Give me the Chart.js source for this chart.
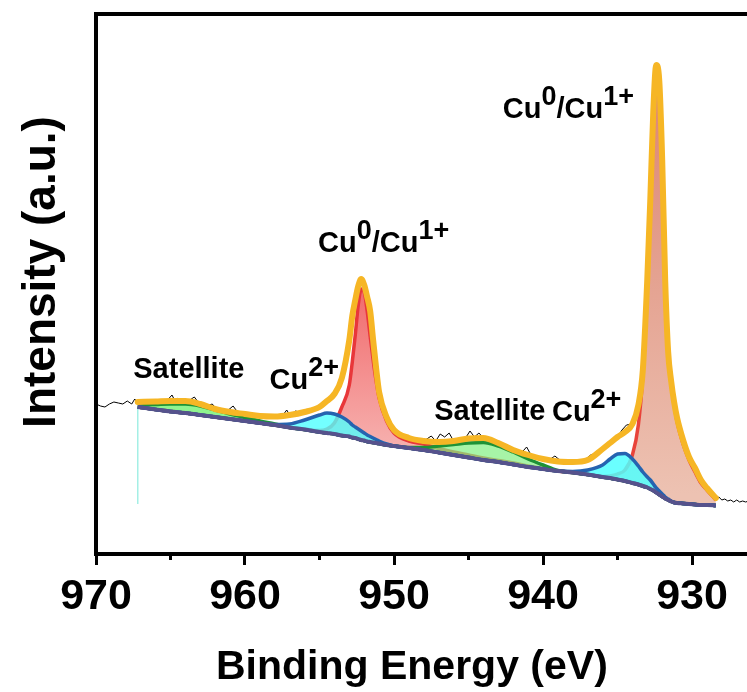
<!DOCTYPE html>
<html>
<head>
<meta charset="utf-8">
<script src="https://cdn.jsdelivr.net/npm/chart.js@4.4.1/dist/chart.umd.min.js"></script>
<style>
  html, body { margin: 0; padding: 0; background: #fff; overflow: hidden; }
  canvas { display: block; }
</style>
</head>
<body>
<canvas id="xps" width="845" height="692"></canvas>
<script>
// Cu 2p XPS fit, binding energy in eV, intensity in arbitrary units
const bindingEnergy = [967.2, 966, 965, 964, 963, 962, 961, 960, 959, 958, 957, 956, 955, 954.5, 954, 953.5, 953, 952.8, 952.6, 952.4, 952.2, 952.0, 951.8, 951.6, 951.4, 951.2, 951, 950.5, 950, 949, 948, 947, 946, 945, 944, 943, 942, 941, 940, 939, 938, 937, 936, 935.5, 935, 934.5, 934, 933.6, 933.3, 933.0, 932.8, 932.6, 932.4, 932.2, 932.0, 931.8, 931.6, 931.4, 931.2, 931.0, 930.6, 930.2, 929.8, 929.4, 929, 928.4];

const background = [147, 144.5, 142.5, 141, 139, 137, 135, 133, 131, 129, 126.5, 124.5, 122, 121, 120, 118.5, 117.5, 116.5, 116, 115, 114, 113.5, 112.5, 112, 111.5, 111, 110.5, 109, 108, 106, 104, 101.5, 99, 96.5, 94, 92, 89.5, 87, 85, 83, 81.5, 79.5, 77, 76, 74.5, 73, 71, 69.5, 68, 66.5, 65, 63.5, 61.5, 59.5, 57.5, 55.5, 54, 52.5, 51.5, 51, 50.5, 50, 49.5, 49, 49, 48.5];

const envelope = [152, 152.5, 153, 153, 150, 145, 142, 140, 138, 137.5, 139, 142, 147, 153, 160, 176, 214, 238, 254, 268, 275, 269, 257, 243, 214, 186, 162, 137, 124, 116, 113, 112, 113, 115.5, 116, 111, 104, 99, 95, 92.5, 92, 94, 105, 111, 117, 122, 130, 149, 184, 275, 354, 442, 489, 474, 394, 274, 202, 173, 152, 136, 114, 97, 86, 74, 66, 56];

// Cu0/Cu1+ 2p1/2 (~952.2 eV)
const cuMetal2p12 = [147, 144.5, 142.5, 141, 139, 137, 135, 133, 131, 129, 126.5, 125, 123.5, 125, 131, 147, 169, 192, 219, 249, 265, 262, 243, 218, 194, 173, 156, 133, 121, 113, 110, 105.5, 102, 99, 96, 93.5, 91, 88, 85.5, 83, 81.5, 79.5, 77, 76, 74.5, 73, 71, 69.5, 68, 66.5, 65, 63.5, 61.5, 59.5, 57.5, 55.5, 54, 52.5, 51.5, 51, 50.5, 50, 49.5, 49, 49, 48.5];

// Cu0/Cu1+ 2p3/2 (~932.3 eV)
const cuMetal2p32 = [147, 144.5, 142.5, 141, 139, 137, 135, 133, 131, 129, 126.5, 124.5, 122, 121, 120, 118.5, 117.5, 116.5, 116, 115, 114, 113.5, 112.5, 112, 111.5, 111, 110.5, 109, 108, 106, 104, 101.5, 99, 96.5, 94, 92, 89.5, 87, 85, 83, 81.5, 79.5, 77.5, 78, 80, 84, 99, 129, 179, 269, 349, 436, 484, 470, 389, 270, 199, 170, 149, 132, 110, 94, 82, 71, 64, 54];

// Cu2+ 2p1/2 (~954 eV)
const cuII2p12 = [147, 144.5, 142.5, 141, 139, 137, 135, 133, 131, 129.5, 130, 134, 139, 141, 140, 137, 132, 129, 127, 125, 123, 121, 119, 117.5, 116, 114.5, 113, 110, 108, 106, 104, 101.5, 99, 96.5, 94, 92, 89.5, 87, 85, 83, 81.5, 79.5, 77, 76, 74.5, 73, 71, 69.5, 68, 66.5, 65, 63.5, 61.5, 59.5, 57.5, 55.5, 54, 52.5, 51.5, 51, 50.5, 50, 49.5, 49, 49, 48.5];

// Cu2+ 2p3/2 (~934.7 eV)
const cuII2p32 = [147, 144.5, 142.5, 141, 139, 137, 135, 133, 131, 129, 126.5, 124.5, 122, 121, 120, 118.5, 117.5, 116.5, 116, 115, 114, 113.5, 112.5, 112, 111.5, 111, 110.5, 109, 108, 106, 104, 101.5, 99, 96.5, 94, 92, 89.5, 87, 85, 83, 82.5, 84, 89, 95, 100, 100.5, 95, 88, 82, 77, 74, 70, 66, 63, 60, 57, 55, 53, 51.5, 51, 50.5, 50, 49.5, 49, 49, 48.5];

// shake-up satellites (~963 and ~944 eV)
const satelliteHigh = [149, 149.5, 150, 150, 148, 144, 140, 136.5, 133, 130, 126.5, 124.5, 122, 121, 120, 118.5, 117.5, 116.5, 116, 115, 114, 113.5, 112.5, 112, 111.5, 111, 110.5, 109, 108, 106, 104, 101.5, 99, 96.5, 94, 92, 89.5, 87, 85, 83, 81.5, 79.5, 77, 76, 74.5, 73, 71, 69.5, 68, 66.5, 65, 63.5, 61.5, 59.5, 57.5, 55.5, 54, 52.5, 51.5, 51, 50.5, 50, 49.5, 49, 49, 48.5];

const satelliteLow = [147, 144.5, 142.5, 141, 139, 137, 135, 133, 131, 129, 126.5, 124.5, 122, 121, 120, 118.5, 117.5, 116.5, 116, 115, 114, 113.5, 112.5, 112, 111.5, 111, 110.5, 109, 108, 106.5, 106.5, 108, 109.5, 111, 111.5, 108, 102, 95, 89, 83.5, 81.5, 79.5, 77, 76, 74.5, 73, 71, 69.5, 68, 66.5, 65, 63.5, 61.5, 59.5, 57.5, 55.5, 54, 52.5, 51.5, 51, 50.5, 50, 49.5, 49, 49, 48.5];

// measured spectrum
const rawEnergy = [970, 969.7, 969.4, 969.1, 968.8, 968.5, 968.2, 967.9, 967.6, 967.4, 967.2, 967.0, 966.5, 966, 965.5, 965.2, 964.9, 964.7, 964.5, 964.2, 963.8, 963.4, 963.1, 962.6, 962.2, 961.9, 961.2, 960.8, 960.5, 960, 959.3, 958.8, 958, 957.5, 957.2, 957, 956.6, 956.2, 955.6, 955.2, 954.8, 954.5, 954, 953.5, 953, 952.8, 952.6, 952.4, 952.2, 952.0, 951.8, 951.6, 951.4, 951.2, 951, 950.5, 950, 949.5, 949, 948.5, 948, 947.5, 947.2, 946.9, 946.6, 946.3, 946, 945.6, 945.2, 944.9, 944.6, 944.3, 944, 943.5, 943, 942.5, 942, 941.4, 941.1, 940.8, 940.2, 939.6, 939.2, 938.8, 938, 937.3, 936.8, 936.4, 936, 935.5, 935, 934.7, 934.4, 934, 933.6, 933.3, 933.0, 932.8, 932.6, 932.4, 932.2, 932.0, 931.8, 931.6, 931.4, 931.2, 931.0, 930.6, 930.2, 929.8, 929.4, 929, 928.6, 928.4, 928.2, 928.0, 927.8, 927.6, 927.4, 927.2, 927.0, 926.8, 926.6, 926.4, 926.2, 926.0, 925.5, 925, 924.5, 924, 923.5, 923, 922.5, 922, 921.5, 921, 920.5, 920];

const rawCounts = [150, 148, 147, 150, 152, 151, 150, 153, 150, 155, 151, 152, 151, 152, 152, 154, 159, 153, 156, 152, 153, 157, 151, 148, 150, 145, 143, 148, 142, 140, 139, 138, 138, 138, 144, 139, 143, 141, 144, 147, 152, 153, 160, 176, 214, 238, 254, 268, 275, 269, 257, 243, 214, 186, 162, 137, 124, 118, 116, 114, 113, 118, 113, 120, 117, 121, 113, 114, 116, 123, 117, 121, 116, 114, 111, 107, 104, 102, 107, 99, 96, 94, 98, 93, 92, 93, 99, 101, 105, 111, 117, 124, 129, 130, 149, 184, 275, 354, 442, 489, 474, 394, 274, 202, 173, 152, 136, 114, 97, 86, 74, 66, 59, 55, 57, 54, 55, 53, 54, 52, 54, 52, 53, 52, 53, 52, 53, 52, 53, 52, 53, 52, 53, 52, 52, 53, 52, 52];

// thin trace left at the start of the fit window
const fitEdgeTrace = [147, 50];

const majorTicks = [970, 960, 950, 940, 930];
const minorTicks = [965, 955, 945, 935, 925];

const FONT = '"Liberation Sans", Arial, Helvetica, sans-serif';

// peak labels: [text, superscript?] pieces, anchored at (eV, intensity)
const peakLabels = [
  { parts: [['Cu', 0], ['0', 1], ['/Cu', 0], ['1+', 1]], be: 942.7, at: 436 },
  { parts: [['Cu', 0], ['0', 1], ['/Cu', 0], ['1+', 1]], be: 955.1, at: 302 },
  { parts: [['Satellite', 0]], be: 967.5, at: 176 },
  { parts: [['Cu', 0], ['2+', 1]], be: 958.35, at: 165 },
  { parts: [['Satellite', 0]], be: 947.3, at: 134 },
  { parts: [['Cu', 0], ['2+', 1]], be: 939.4, at: 133 }
];

const pts = ys => ys.map((v, i) => ({ x: bindingEnergy[i], y: v }));

function vGradient(stops, vTop, vBottom) {
  return c => {
    const { ctx, chartArea, scales } = c.chart;
    if (!chartArea) return stops[0];
    const g = ctx.createLinearGradient(0, scales.y.getPixelForValue(vTop), 0, scales.y.getPixelForValue(vBottom));
    g.addColorStop(0, stops[0]);
    g.addColorStop(1, stops[1]);
    return g;
  };
}

const frame = {
  id: 'frame',
  afterDraw(chart) {
    const { ctx, chartArea: a, scales: { x, y } } = chart;
    ctx.save();
    ctx.strokeStyle = '#000';
    ctx.lineWidth = 4;
    ctx.strokeRect(a.left, a.top, a.right - a.left, a.bottom - a.top);

    ctx.lineWidth = 3;
    minorTicks.forEach(v => {
      const px = x.getPixelForValue(v);
      ctx.beginPath();
      ctx.moveTo(px, a.bottom);
      ctx.lineTo(px, a.bottom + 6);
      ctx.stroke();
    });

    ctx.fillStyle = '#000';
    ctx.textBaseline = 'alphabetic';
    ctx.font = 'bold 41px ' + FONT;
    ctx.textAlign = 'left';
    ctx.fillText('Binding Energy (eV)', a.left + 120, 679);

    ctx.save();
    ctx.translate(55, 272);
    ctx.rotate(-Math.PI / 2);
    ctx.textAlign = 'center';
    ctx.font = 'bold 46px ' + FONT;
    ctx.fillText('Intensity (a.u.)', 0, 0);
    ctx.restore();

    ctx.textAlign = 'left';
    peakLabels.forEach(l => {
      let cx = x.getPixelForValue(l.be);
      const by = y.getPixelForValue(l.at);
      l.parts.forEach(([t, sup]) => {
        ctx.font = 'bold ' + (sup ? 27 : 29) + 'px ' + FONT;
        ctx.fillText(t, cx, sup ? by - 13 : by);
        cx += ctx.measureText(t).width;
      });
    });
    ctx.restore();
  }
};

new Chart(document.getElementById('xps'), {
  type: 'line',
  data: {
    datasets: [
      { label: 'Envelope', data: pts(envelope), borderColor: '#F6B625', borderWidth: 6, fill: false, order: 0, borderCapStyle: 'round' },
      { label: 'Raw', data: rawCounts.map((v, i) => ({ x: rawEnergy[i], y: v })), borderColor: '#000', borderWidth: 1, fill: false, order: 1, cubicInterpolationMode: 'default', tension: 0 },
      { label: 'Background', data: pts(background), borderColor: '#56528C', borderWidth: 4, fill: false, order: 2 },
      { label: 'Cu2+ 2p1/2', data: pts(cuII2p12), borderColor: '#2563B0', borderWidth: 3.5, fill: 2, backgroundColor: 'rgba(80,255,255,0.8)', order: 3 },
      { label: 'Cu2+ 2p3/2', data: pts(cuII2p32), borderColor: '#2563B0', borderWidth: 3.5, fill: 2, backgroundColor: 'rgba(80,255,255,0.85)', order: 3 },
      { label: 'Satellite high', data: pts(satelliteHigh), borderColor: '#1E9236', borderWidth: 3.5, fill: 2, backgroundColor: 'rgba(105,240,105,0.75)', order: 4 },
      { label: 'Satellite low', data: pts(satelliteLow), borderColor: '#1E9236', borderWidth: 3.5, fill: 2, backgroundColor: 'rgba(130,240,130,0.7)', order: 4 },
      { label: 'Cu0/Cu1+ 2p1/2', data: pts(cuMetal2p12), borderColor: '#E8373A', borderWidth: 3.5, fill: 2, backgroundColor: vGradient(['rgba(240,96,98,0.95)', 'rgba(246,170,168,0.95)'], 270, 110), order: 5 },
      { label: 'Cu0/Cu1+ 2p3/2', data: pts(cuMetal2p32), borderColor: '#E8433A', borderWidth: 3.5, fill: 2, backgroundColor: vGradient(['rgba(220,132,114,1)', 'rgba(237,194,178,1)'], 480, 60), order: 6 },
      { label: 'Fit edge', data: fitEdgeTrace.map(v => ({ x: bindingEnergy[0], y: v })), borderColor: '#A6F0E6', borderWidth: 1, fill: false, order: 7, tension: 0, cubicInterpolationMode: 'default' }
    ]
  },
  options: {
    responsive: false,
    animation: false,
    events: [],
    layout: { padding: { left: 96, top: 14, right: 4, bottom: 0 } },
    plugins: { legend: { display: false }, tooltip: { enabled: false } },
    elements: { point: { radius: 0 }, line: { cubicInterpolationMode: 'monotone' } },
    scales: {
      x: {
        type: 'linear', min: 920, max: 970, reverse: true,
        afterFit: s => { s.height = 138; },
        afterBuildTicks: s => { s.ticks = [920].concat(majorTicks.slice().reverse()).map(v => ({ value: v })); },
        border: { display: false },
        grid: { display: true, drawOnChartArea: false, drawTicks: true, tickLength: 11, tickWidth: 3, tickColor: '#000' },
        ticks: {
          color: '#000', padding: 6, autoSkip: false, maxRotation: 0,
          font: { family: FONT, size: 43, weight: 'bold' },
          callback: v => (majorTicks.includes(v) ? String(v) : '')
        }
      },
      y: { display: false, min: 0, max: 540 }
    }
  },
  plugins: [frame]
});
</script>
</body>
</html>
